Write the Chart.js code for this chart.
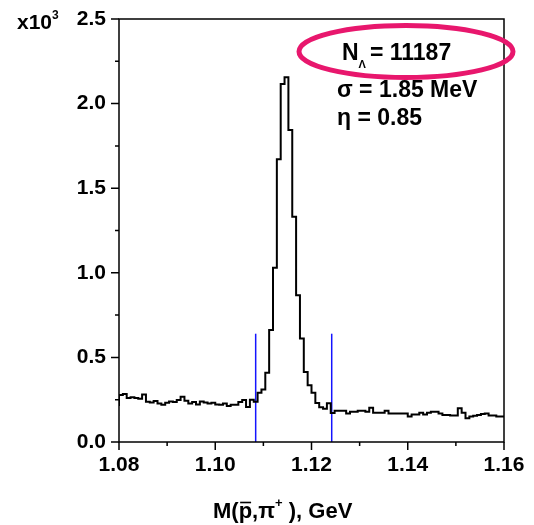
<!DOCTYPE html>
<html>
<head>
<meta charset="utf-8">
<script src="https://cdn.jsdelivr.net/npm/chart.js@4"></script>
<style>
  html, body { margin: 0; padding: 0; background: #fff; }
  #wrap { width: 534px; height: 525px; }
</style>
</head>
<body>
<div id="wrap"><canvas id="mass"></canvas></div>
<script>
// invariant mass spectrum, 0.8 MeV bins starting at 1.08 GeV (counts in units of 10^3)
const binStart = 1.08;
const binWidth = 0.0008;
const counts = [
  0.213, 0.278, 0.284, 0.260, 0.264, 0.260, 0.256, 0.280, 0.238, 0.234,
  0.242, 0.228, 0.220, 0.232, 0.240, 0.236, 0.248, 0.268, 0.244, 0.228,
  0.236, 0.222, 0.240, 0.234, 0.228, 0.232, 0.222, 0.220, 0.228, 0.213,
  0.220, 0.220, 0.236, 0.248, 0.207, 0.250, 0.238, 0.291, 0.311, 0.410,
  0.662, 1.030, 1.671, 2.116, 2.155, 1.844, 1.332, 0.867, 0.611, 0.414,
  0.335, 0.291, 0.230, 0.205, 0.197, 0.229, 0.171, 0.185, 0.185, 0.185,
  0.169, 0.179, 0.179, 0.185, 0.185, 0.179, 0.203, 0.173, 0.173, 0.173,
  0.185, 0.169, 0.169, 0.169, 0.169, 0.169, 0.150, 0.163, 0.163, 0.173,
  0.163, 0.173, 0.179, 0.179, 0.169, 0.160, 0.160, 0.156, 0.156, 0.199,
  0.173, 0.140, 0.150, 0.155, 0.160, 0.165, 0.169, 0.156, 0.156, 0.150
];

// signal window cuts
const cutMass = [1.1084, 1.1242];
const cutHeight = 0.64;

const xTicks = [1.08, 1.10, 1.12, 1.14, 1.16];
const xMinor = [1.09, 1.11, 1.13, 1.15];
const yTicks = [0, 0.5, 1.0, 1.5, 2.0, 2.5];
const yMinor = [0.25, 0.75, 1.25, 1.75, 2.25];

const FONT = '"Liberation Sans", Arial, sans-serif';

// histogram as step line: one point per lower bin edge, plus the last upper edge
const histPoints = counts.map((c, i) => ({ x: binStart + i * binWidth, y: c }));
histPoints.push({ x: binStart + counts.length * binWidth, y: counts[counts.length - 1] });

const cutSets = cutMass.map(m => ({
  data: [{ x: m, y: 0 }, { x: m, y: cutHeight }],
  borderColor: '#1414ff',
  borderWidth: 1.5,
  pointRadius: 0,
  fill: false
}));

// draws a run of text pieces with their own size and vertical offset
function richText(ctx, parts, x, y) {
  let cx = x;
  parts.forEach(p => {
    ctx.font = 'bold ' + p.size + 'px ' + FONT;
    ctx.fillText(p.t, cx, y + (p.dy || 0));
    cx += ctx.measureText(p.t).width + (p.gap || 0);
  });
  return cx;
}

// keep the plot box where the layout padding puts it
function noLabelPadding(s) {
  s.paddingTop = 0;
  s.paddingBottom = 0;
  s.paddingLeft = 0;
  s.paddingRight = 0;
}

const frame = {
  id: 'frame',
  afterDraw(chart) {
    const { ctx, chartArea: a, scales } = chart;
    const xs = scales.x, ys = scales.y;
    ctx.save();
    ctx.strokeStyle = '#000';
    ctx.lineWidth = 1.5;
    ctx.strokeRect(a.left, a.top, a.right - a.left, a.bottom - a.top);

    // outward tick marks
    ctx.beginPath();
    xTicks.forEach(v => { const p = xs.getPixelForValue(v); ctx.moveTo(p, a.bottom); ctx.lineTo(p, a.bottom + 8); });
    xMinor.forEach(v => { const p = xs.getPixelForValue(v); ctx.moveTo(p, a.bottom); ctx.lineTo(p, a.bottom + 4); });
    yTicks.forEach(v => { const p = ys.getPixelForValue(v); ctx.moveTo(a.left, p); ctx.lineTo(a.left - 8, p); });
    yMinor.forEach(v => { const p = ys.getPixelForValue(v); ctx.moveTo(a.left, p); ctx.lineTo(a.left - 4, p); });
    ctx.stroke();

    ctx.fillStyle = '#000';
    ctx.textBaseline = 'alphabetic';
    ctx.textAlign = 'left';

    // y multiplier
    richText(ctx, [
      { t: 'x10', size: 21 },
      { t: '3', size: 12, dy: -10 }
    ], 17, 29);

    // axis title
    const tx = 213, ty = 518;
    ctx.font = 'bold 22px ' + FONT;
    let cx = richText(ctx, [{ t: 'M(', size: 22 }], tx, ty);
    const pW = ctx.measureText('p').width;
    ctx.fillText('p', cx, ty);
    ctx.beginPath();
    ctx.lineWidth = 1.6;
    ctx.moveTo(cx + 1.5, ty - 15.5);
    ctx.lineTo(cx + pW - 1, ty - 15.5);
    ctx.stroke();
    cx += pW;
    richText(ctx, [
      { t: ',\u03c0', size: 22 },
      { t: '+', size: 13, dy: -11 },
      { t: ' ), GeV', size: 22 }
    ], cx, ty);

    // fit results
    richText(ctx, [
      { t: 'N', size: 23 },
      { t: '\u039b', size: 11, dy: 8, gap: 4 },
      { t: '= 11187', size: 23 }
    ], 342, 60);
    richText(ctx, [{ t: '\u03c3 = 1.85 MeV', size: 23 }], 337, 97);
    richText(ctx, [{ t: '\u03b7 = 0.85', size: 23 }], 337, 125);

    ctx.beginPath();
    ctx.strokeStyle = '#e8176d';
    ctx.lineWidth = 5;
    ctx.ellipse(406, 51.5, 107, 26, 0, 0, Math.PI * 2);
    ctx.stroke();
    ctx.restore();
  }
};

new Chart(document.getElementById('mass'), {
  type: 'line',
  data: {
    datasets: [{
      data: histPoints,
      stepped: 'after',
      borderColor: '#000',
      borderWidth: 2,
      pointRadius: 0,
      fill: false
    }, ...cutSets]
  },
  options: {
    responsive: true,
    maintainAspectRatio: false,
    animation: false,
    devicePixelRatio: 1,
    layout: { padding: { left: 0, top: 19, right: 30, bottom: 0 } },
    plugins: { legend: { display: false }, tooltip: { enabled: false } },
    scales: {
      x: {
        type: 'linear',
        min: 1.08,
        max: 1.16,
        afterBuildTicks: s => { s.ticks = xTicks.map(v => ({ value: v })); },
        afterFit: s => { s.height = 83; noLabelPadding(s); },
        grid: { display: false, drawTicks: false },
        border: { display: false },
        ticks: {
          padding: 11,
          maxRotation: 0,
          color: '#000',
          font: { family: FONT, weight: 'bold', size: 21 },
          callback: v => v.toFixed(2)
        }
      },
      y: {
        type: 'linear',
        min: 0,
        max: 2.5,
        afterBuildTicks: s => { s.ticks = yTicks.map(v => ({ value: v })); },
        afterFit: s => { s.width = 119; noLabelPadding(s); },
        grid: { display: false, drawTicks: false },
        border: { display: false },
        ticks: {
          padding: 13,
          color: '#000',
          font: { family: FONT, weight: 'bold', size: 21 },
          callback: v => v.toFixed(1)
        }
      }
    }
  },
  plugins: [frame]
});
</script>
</body>
</html>
